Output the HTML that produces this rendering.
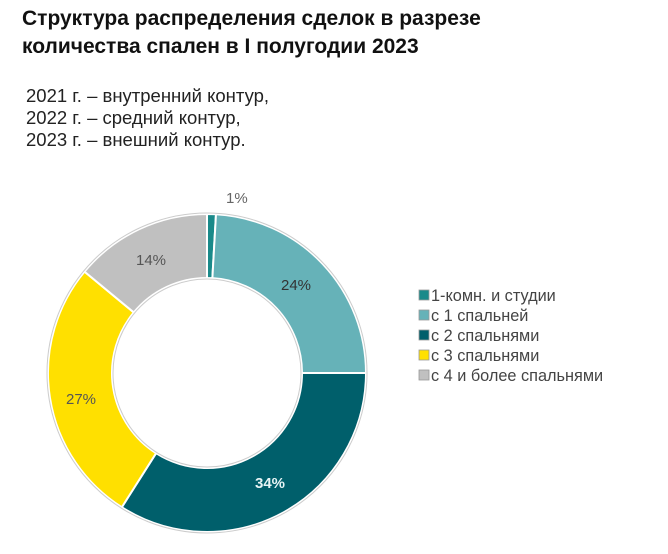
<!DOCTYPE html>
<html><head><meta charset="utf-8"><style>
body{margin:0;background:#fff;width:668px;height:554px;overflow:hidden;font-family:"Liberation Sans",sans-serif;}
.t{position:absolute;left:22px;top:5px;font-size:21px;font-weight:bold;line-height:28px;color:#111;}
.s{position:absolute;left:26px;top:85px;font-size:18.5px;line-height:22px;color:#222;}
</style></head><body>
<div class="t">Структура распределения сделок в разрезе<br>количества спален в I полугодии 2023</div>
<div class="s">2021 г. – внутренний контур,<br>2022 г. – средний контур,<br>2023 г. – внешний контур.</div>
<svg width="668" height="554" style="position:absolute;left:0;top:0">
<g id="d"></g>
<g font-family="Liberation Sans, sans-serif" font-size="15">
<text x="226" y="203" fill="#666">1%</text>
<text x="281" y="290" fill="#333">24%</text>
<text x="255" y="488" fill="#e6f4f5" font-weight="bold">34%</text>
<text x="66" y="404" fill="#555">27%</text>
<text x="136" y="265" fill="#555">14%</text>
</g>
<g font-family="Liberation Sans, sans-serif" font-size="16.3" fill="#444">
<rect x="419" y="290" width="10" height="10" fill="#1a8a8a" stroke="#999" stroke-width="0.8"/><text x="431" y="301">1-комн. и студии</text>
<rect x="419" y="310" width="10" height="10" fill="#66b2b8" stroke="#999" stroke-width="0.8"/><text x="431" y="321">с 1 спальней</text>
<rect x="419" y="330" width="10" height="10" fill="#005f6b" stroke="#999" stroke-width="0.8"/><text x="431" y="341">с 2 спальнями</text>
<rect x="419" y="350" width="10" height="10" fill="#ffe000" stroke="#999" stroke-width="0.8"/><text x="431" y="361">с 3 спальнями</text>
<rect x="419" y="370" width="10" height="10" fill="#c0c0c0" stroke="#999" stroke-width="0.8"/><text x="431" y="381">с 4 и более спальнями</text>
</g>
</svg>
<script>
var cx=207,cy=373,R=159,r=95;
var data=[[0.9,"#1a8a8a"],[24.1,"#66b2b8"],[34,"#005f6b"],[27,"#ffe000"],[14,"#c0c0c0"]];
var a=0,h="";
function p(rad,ang){var t=(ang/100)*2*Math.PI;return [cx+rad*Math.sin(t),cy-rad*Math.cos(t)];}
data.forEach(function(d){var b=a+d[0];var l=d[0]>50?1:0;
var A=p(R,a),B=p(R,b),C=p(r,b),D=p(r,a);
h+='<path d="M'+A+' A'+R+','+R+' 0 '+l+' 1 '+B+' L'+C+' A'+r+','+r+' 0 '+l+' 0 '+D+' Z" fill="'+d[1]+'" stroke="#fff" stroke-width="2"/>';a=b;});
h+='<circle cx="'+cx+'" cy="'+cy+'" r="'+(R+1)+'" fill="none" stroke="#ccc" stroke-width="1"/>';
h+='<circle cx="'+cx+'" cy="'+cy+'" r="'+(r-1)+'" fill="none" stroke="#ccc" stroke-width="1"/>';
document.getElementById("d").innerHTML=h;
</script>
</body></html>
